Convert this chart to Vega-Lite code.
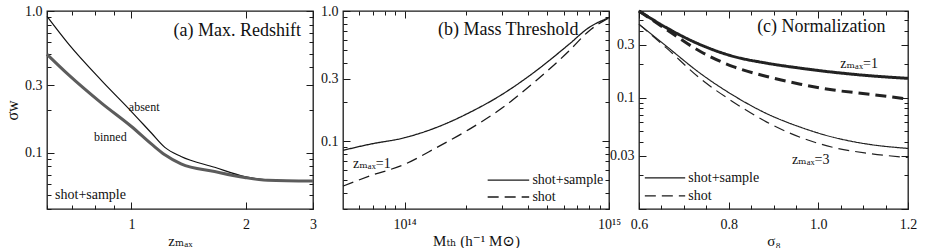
{
  "$schema": "https://vega.github.io/schema/vega-lite/v6.json",
  "padding": {"left": 3, "top": 3, "right": 5, "bottom": 0},
  "background": "white",
  "bounds": "flush",
  "spacing": 30,
  "config": {
    "font": "'Liberation Serif', 'Times New Roman', 'DejaVu Serif', serif",
    "view": {"stroke": "#1a1a1a", "strokeWidth": 1.3},
    "axis": {"domain": false, "grid": false, "tickColor": "#1a1a1a", "tickWidth": 1, "labelFont": "'Liberation Serif', 'Times New Roman', 'DejaVu Serif', serif", "labelFontSize": 14, "labelColor": "#111111", "labelFlush": false, "labelOverlap": false, "labelPadding": 15, "titleFont": "'Liberation Serif', 'Times New Roman', 'DejaVu Serif', serif", "titleFontSize": 15, "titleFontWeight": "normal", "titleColor": "#111111", "titlePadding": -1},
    "axisY": {"labelPadding": 12, "titlePadding": 4, "titleFontSize": 16},
    "text": {"font": "'Liberation Serif', 'Times New Roman', 'DejaVu Serif', serif", "color": "#111111"}
  },
  "resolve": {"scale": {"x": "independent", "y": "independent", "strokeDash": "independent", "strokeWidth": "independent", "color": "independent"}},
  "hconcat": [
    {
      "width": 266,
      "height": 198,
      "data": {"values": [
        {"z": 0.6, "s": 0.915, "series": "absent"},
        {"z": 0.684, "s": 0.583, "series": "absent"},
        {"z": 0.836, "s": 0.321, "series": "absent"},
        {"z": 1.0, "s": 0.195, "series": "absent"},
        {"z": 1.13, "s": 0.137, "series": "absent"},
        {"z": 1.224, "s": 0.109, "series": "absent"},
        {"z": 1.35, "s": 0.0939, "series": "absent"},
        {"z": 1.654, "s": 0.0788, "series": "absent"},
        {"z": 1.983, "s": 0.0678, "series": "absent"},
        {"z": 2.28, "s": 0.0643, "series": "absent"},
        {"z": 3.0, "s": 0.063, "series": "absent"},
        {"z": 0.6, "s": 0.495, "series": "binned"},
        {"z": 0.684, "s": 0.354, "series": "binned"},
        {"z": 0.836, "s": 0.223, "series": "binned"},
        {"z": 1.0, "s": 0.153, "series": "binned"},
        {"z": 1.13, "s": 0.1147, "series": "binned"},
        {"z": 1.224, "s": 0.0965, "series": "binned"},
        {"z": 1.35, "s": 0.0833, "series": "binned"},
        {"z": 1.654, "s": 0.0735, "series": "binned"},
        {"z": 1.983, "s": 0.0667, "series": "binned"},
        {"z": 2.28, "s": 0.0638, "series": "binned"},
        {"z": 3.0, "s": 0.063, "series": "binned"}
      ]},
      "layer": [
        {
          "mark": {"type": "line", "interpolate": "monotone"},
          "encoding": {
            "x": {"field": "z", "type": "quantitative", "scale": {"type": "log", "domain": [0.6, 3]},
              "axis": {"orient": "bottom", "title": "zₘₐₓ", "values": [0.6, 0.7, 0.8, 0.9, 1, 2, 3],
                "labelExpr": "datum.value==1?'1':datum.value==2?'2':datum.value==3?'3':''",
                "tickSize": {"condition": {"test": "datum.value>=1", "value": -7}, "value": -4}}},
            "y": {"field": "s", "type": "quantitative", "scale": {"type": "log", "domain": [0.04, 1]},
              "axis": {"orient": "left", "title": "σw", "values": [0.04, 0.05, 0.06, 0.07, 0.08, 0.09, 0.1, 0.2, 0.3, 0.4, 0.5, 0.6, 0.7, 0.8, 0.9, 1],
                "labelExpr": "datum.value==1?'1.0':datum.value==0.3?'0.3':datum.value==0.1?'0.1':''",
                "tickSize": {"condition": {"test": "datum.value==1||datum.value==0.3||datum.value==0.1", "value": -7}, "value": -4}}},
            "color": {"field": "series", "type": "nominal", "scale": {"domain": ["absent", "binned"], "range": ["#111111", "#5c5c5c"]}, "legend": null},
            "strokeWidth": {"field": "series", "type": "ordinal", "scale": {"domain": ["absent", "binned"], "range": [1.2, 3]}, "legend": null}
          }
        },
        {
          "mark": {"type": "line", "strokeOpacity": 0},
          "encoding": {
            "x": {"field": "z", "type": "quantitative", "scale": {"type": "log", "domain": [0.6, 3]},
              "axis": {"orient": "top", "title": null, "labels": false, "values": [0.6, 0.7, 0.8, 0.9, 1, 2, 3],
                "tickSize": {"condition": {"test": "datum.value>=1", "value": -7}, "value": -4}}},
            "y": {"field": "s", "type": "quantitative", "scale": {"type": "log", "domain": [0.04, 1]},
              "axis": {"orient": "right", "title": null, "labels": false, "values": [0.04, 0.05, 0.06, 0.07, 0.08, 0.09, 0.1, 0.2, 0.3, 0.4, 0.5, 0.6, 0.7, 0.8, 0.9, 1],
                "tickSize": {"condition": {"test": "datum.value==1||datum.value==0.3||datum.value==0.1", "value": -7}, "value": -4}}},
            "detail": {"field": "series", "type": "nominal"}
          }
        },
        {
          "data": {"values": [{"z": 2.79, "s": 0.72, "label": "(a) Max. Redshift"}]},
          "mark": {"type": "text", "align": "right", "baseline": "middle", "fontSize": 18},
          "encoding": {
            "x": {"field": "z", "type": "quantitative", "scale": {"type": "log", "domain": [0.6, 3]}, "axis": null},
            "y": {"field": "s", "type": "quantitative", "scale": {"type": "log", "domain": [0.04, 1]}, "axis": null},
            "text": {"field": "label"}
          }
        },
        {
          "data": {"values": [{"z": 1.08, "s": 0.21, "label": "absent"}, {"z": 0.88, "s": 0.128, "label": "binned"}]},
          "mark": {"type": "text", "align": "center", "baseline": "middle", "fontSize": 12},
          "encoding": {
            "x": {"field": "z", "type": "quantitative", "scale": {"type": "log", "domain": [0.6, 3]}, "axis": null},
            "y": {"field": "s", "type": "quantitative", "scale": {"type": "log", "domain": [0.04, 1]}, "axis": null},
            "text": {"field": "label"}
          }
        },
        {
          "data": {"values": [{"z": 0.63, "s": 0.05, "label": "shot+sample"}]},
          "mark": {"type": "text", "align": "left", "baseline": "middle", "fontSize": 14},
          "encoding": {
            "x": {"field": "z", "type": "quantitative", "scale": {"type": "log", "domain": [0.6, 3]}, "axis": null},
            "y": {"field": "s", "type": "quantitative", "scale": {"type": "log", "domain": [0.04, 1]}, "axis": null},
            "text": {"field": "label"}
          }
        }
      ],
      "resolve": {"axis": {"x": "independent", "y": "independent"}}
    },
    {
      "width": 266,
      "height": 198,
      "data": {"values": [
        {"M": 5e13, "s": 0.0848, "type": "shot+sample"},
        {"M": 6.75e13, "s": 0.0944, "type": "shot+sample"},
        {"M": 1e14, "s": 0.106, "type": "shot+sample"},
        {"M": 1.43e14, "s": 0.127, "type": "shot+sample"},
        {"M": 2.07e14, "s": 0.165, "type": "shot+sample"},
        {"M": 3.01e14, "s": 0.229, "type": "shot+sample"},
        {"M": 4.38e14, "s": 0.345, "type": "shot+sample"},
        {"M": 6.37e14, "s": 0.554, "type": "shot+sample"},
        {"M": 7.96e14, "s": 0.744, "type": "shot+sample"},
        {"M": 1e15, "s": 0.888, "type": "shot+sample"},
        {"M": 5e13, "s": 0.045, "type": "shot"},
        {"M": 6.75e13, "s": 0.0538, "type": "shot"},
        {"M": 1e14, "s": 0.0662, "type": "shot"},
        {"M": 1.43e14, "s": 0.0888, "type": "shot"},
        {"M": 2.07e14, "s": 0.123, "type": "shot"},
        {"M": 3.01e14, "s": 0.18, "type": "shot"},
        {"M": 4.38e14, "s": 0.29, "type": "shot"},
        {"M": 6.37e14, "s": 0.492, "type": "shot"},
        {"M": 7.96e14, "s": 0.7, "type": "shot"},
        {"M": 1e15, "s": 0.888, "type": "shot"}
      ]},
      "layer": [
        {
          "mark": {"type": "line", "interpolate": "monotone", "color": "#1a1a1a", "strokeWidth": 1.3},
          "encoding": {
            "x": {"field": "M", "type": "quantitative", "scale": {"type": "log", "domain": [5e13, 1e15]},
              "axis": {"orient": "bottom", "title": "Mₜₕ (h⁻¹ M⊙)", "values": [6e13, 7e13, 8e13, 9e13, 1e14, 2e14, 3e14, 4e14, 5e14, 6e14, 7e14, 8e14, 9e14, 1e15],
                "labelExpr": "datum.value==1e14?'10¹⁴':datum.value==1e15?'10¹⁵':''",
                "tickSize": {"condition": {"test": "datum.value==1e14||datum.value==1e15", "value": -7}, "value": -4}}},
            "y": {"field": "s", "type": "quantitative", "scale": {"type": "log", "domain": [0.03, 1]},
              "axis": {"orient": "left", "title": null, "values": [0.03, 0.04, 0.05, 0.06, 0.07, 0.08, 0.09, 0.1, 0.2, 0.3, 0.4, 0.5, 0.6, 0.7, 0.8, 0.9, 1],
                "labelExpr": "datum.value==1?'1.0':datum.value==0.3?'0.3':datum.value==0.1?'0.1':''",
                "tickSize": {"condition": {"test": "datum.value==1||datum.value==0.3||datum.value==0.1", "value": -7}, "value": -4}}},
            "strokeDash": {"field": "type", "type": "nominal", "scale": {"domain": ["shot+sample", "shot"], "range": [[1, 0], [11, 6]]}, "legend": null}
          }
        },
        {
          "mark": {"type": "line", "strokeOpacity": 0},
          "encoding": {
            "x": {"field": "M", "type": "quantitative", "scale": {"type": "log", "domain": [5e13, 1e15]},
              "axis": {"orient": "top", "title": null, "labels": false, "values": [6e13, 7e13, 8e13, 9e13, 1e14, 2e14, 3e14, 4e14, 5e14, 6e14, 7e14, 8e14, 9e14, 1e15],
                "tickSize": {"condition": {"test": "datum.value==1e14||datum.value==1e15", "value": -7}, "value": -4}}},
            "y": {"field": "s", "type": "quantitative", "scale": {"type": "log", "domain": [0.03, 1]},
              "axis": {"orient": "right", "title": null, "labels": false, "values": [0.03, 0.04, 0.05, 0.06, 0.07, 0.08, 0.09, 0.1, 0.2, 0.3, 0.4, 0.5, 0.6, 0.7, 0.8, 0.9, 1],
                "tickSize": {"condition": {"test": "datum.value==1||datum.value==0.3||datum.value==0.1", "value": -7}, "value": -4}}},
            "detail": {"field": "type", "type": "nominal"}
          }
        },
        {
          "data": {"values": [
            {"M1": 2.55e14, "M2": 4.07e14, "s": 0.0501, "type": "shot+sample"},
            {"M1": 2.55e14, "M2": 4.07e14, "s": 0.0371, "type": "shot"}
          ]},
          "mark": {"type": "rule", "color": "#1a1a1a", "strokeWidth": 1.3},
          "encoding": {
            "x": {"field": "M1", "type": "quantitative", "scale": {"type": "log", "domain": [5e13, 1e15]}, "axis": null},
            "x2": {"field": "M2"},
            "y": {"field": "s", "type": "quantitative", "scale": {"type": "log", "domain": [0.03, 1]}, "axis": null},
            "strokeDash": {"field": "type", "type": "nominal", "scale": {"domain": ["shot+sample", "shot"], "range": [[1, 0], [11, 6]]}, "legend": null}
          }
        },
        {
          "data": {"values": [
            {"M": 4.22e14, "s": 0.0501, "label": "shot+sample"},
            {"M": 4.22e14, "s": 0.0371, "label": "shot"}
          ]},
          "mark": {"type": "text", "align": "left", "baseline": "middle", "fontSize": 14},
          "encoding": {
            "x": {"field": "M", "type": "quantitative", "scale": {"type": "log", "domain": [5e13, 1e15]}, "axis": null},
            "y": {"field": "s", "type": "quantitative", "scale": {"type": "log", "domain": [0.03, 1]}, "axis": null},
            "text": {"field": "label"}
          }
        },
        {
          "data": {"values": [{"M": 7.1e14, "s": 0.71, "label": "(b) Mass Threshold"}]},
          "mark": {"type": "text", "align": "right", "baseline": "middle", "fontSize": 18},
          "encoding": {
            "x": {"field": "M", "type": "quantitative", "scale": {"type": "log", "domain": [5e13, 1e15]}, "axis": null},
            "y": {"field": "s", "type": "quantitative", "scale": {"type": "log", "domain": [0.03, 1]}, "axis": null},
            "text": {"field": "label"}
          }
        },
        {
          "data": {"values": [{"M": 5.6e13, "s": 0.066, "label": "zₘₐₓ=1"}]},
          "mark": {"type": "text", "align": "left", "baseline": "middle", "fontSize": 14},
          "encoding": {
            "x": {"field": "M", "type": "quantitative", "scale": {"type": "log", "domain": [5e13, 1e15]}, "axis": null},
            "y": {"field": "s", "type": "quantitative", "scale": {"type": "log", "domain": [0.03, 1]}, "axis": null},
            "text": {"field": "label"}
          }
        }
      ],
      "resolve": {"axis": {"x": "independent", "y": "independent"}}
    },
    {
      "width": 269,
      "height": 198,
      "data": {"values": [
        {"s8": 0.6, "s": 0.6, "type": "shot+sample", "zmax": "1"},
        {"s8": 0.661, "s": 0.425, "type": "shot+sample", "zmax": "1"},
        {"s8": 0.736, "s": 0.3, "type": "shot+sample", "zmax": "1"},
        {"s8": 0.81, "s": 0.235, "type": "shot+sample", "zmax": "1"},
        {"s8": 0.885, "s": 0.204, "type": "shot+sample", "zmax": "1"},
        {"s8": 0.96, "s": 0.184, "type": "shot+sample", "zmax": "1"},
        {"s8": 1.034, "s": 0.169, "type": "shot+sample", "zmax": "1"},
        {"s8": 1.109, "s": 0.158, "type": "shot+sample", "zmax": "1"},
        {"s8": 1.2, "s": 0.149, "type": "shot+sample", "zmax": "1"},
        {"s8": 0.6, "s": 0.6, "type": "shot", "zmax": "1"},
        {"s8": 0.661, "s": 0.41, "type": "shot", "zmax": "1"},
        {"s8": 0.736, "s": 0.261, "type": "shot", "zmax": "1"},
        {"s8": 0.81, "s": 0.19, "type": "shot", "zmax": "1"},
        {"s8": 0.885, "s": 0.155, "type": "shot", "zmax": "1"},
        {"s8": 0.96, "s": 0.132, "type": "shot", "zmax": "1"},
        {"s8": 1.034, "s": 0.117, "type": "shot", "zmax": "1"},
        {"s8": 1.109, "s": 0.108, "type": "shot", "zmax": "1"},
        {"s8": 1.2, "s": 0.097, "type": "shot", "zmax": "1"},
        {"s8": 0.6, "s": 0.456, "type": "shot+sample", "zmax": "3"},
        {"s8": 0.661, "s": 0.29, "type": "shot+sample", "zmax": "3"},
        {"s8": 0.736, "s": 0.166, "type": "shot+sample", "zmax": "3"},
        {"s8": 0.81, "s": 0.105, "type": "shot+sample", "zmax": "3"},
        {"s8": 0.885, "s": 0.0718, "type": "shot+sample", "zmax": "3"},
        {"s8": 0.96, "s": 0.0543, "type": "shot+sample", "zmax": "3"},
        {"s8": 1.034, "s": 0.044, "type": "shot+sample", "zmax": "3"},
        {"s8": 1.109, "s": 0.0383, "type": "shot+sample", "zmax": "3"},
        {"s8": 1.2, "s": 0.035, "type": "shot+sample", "zmax": "3"},
        {"s8": 0.6, "s": 0.456, "type": "shot", "zmax": "3"},
        {"s8": 0.661, "s": 0.28, "type": "shot", "zmax": "3"},
        {"s8": 0.736, "s": 0.149, "type": "shot", "zmax": "3"},
        {"s8": 0.81, "s": 0.0916, "type": "shot", "zmax": "3"},
        {"s8": 0.885, "s": 0.0603, "type": "shot", "zmax": "3"},
        {"s8": 0.96, "s": 0.044, "type": "shot", "zmax": "3"},
        {"s8": 1.034, "s": 0.0357, "type": "shot", "zmax": "3"},
        {"s8": 1.109, "s": 0.0317, "type": "shot", "zmax": "3"},
        {"s8": 1.2, "s": 0.029, "type": "shot", "zmax": "3"}
      ]},
      "layer": [
        {
          "mark": {"type": "line", "interpolate": "monotone", "color": "#222222"},
          "encoding": {
            "x": {"field": "s8", "type": "quantitative", "scale": {"domain": [0.6, 1.2], "nice": false, "zero": false},
              "axis": {"orient": "bottom", "title": "σ₈", "values": [0.6, 0.65, 0.7, 0.75, 0.8, 0.85, 0.9, 0.95, 1, 1.05, 1.1, 1.15, 1.2],
                "labelExpr": "datum.value==0.6||datum.value==0.8||datum.value==1||datum.value==1.2 ? format(datum.value,'.1f') : ''",
                "tickSize": {"condition": {"test": "datum.value==0.6||datum.value==0.8||datum.value==1||datum.value==1.2", "value": -7}, "value": -4}}},
            "y": {"field": "s", "type": "quantitative", "scale": {"type": "log", "domain": [0.01, 0.6]},
              "axis": {"orient": "left", "title": null, "values": [0.01, 0.02, 0.03, 0.04, 0.05, 0.06, 0.07, 0.08, 0.09, 0.1, 0.2, 0.3, 0.4, 0.5, 0.6],
                "labelExpr": "datum.value==0.3?'0.3':datum.value==0.1?'0.1':datum.value==0.03?'0.03':''",
                "tickSize": {"condition": {"test": "datum.value==0.01||datum.value==0.03||datum.value==0.1||datum.value==0.3", "value": -7}, "value": -4}}},
            "strokeDash": {"field": "type", "type": "nominal", "scale": {"domain": ["shot+sample", "shot"], "range": [[1, 0], [11, 6]]}, "legend": null},
            "strokeWidth": {"field": "zmax", "type": "ordinal", "scale": {"domain": ["1", "3"], "range": [3, 1.2]}, "legend": null}
          }
        },
        {
          "mark": {"type": "line", "strokeOpacity": 0},
          "encoding": {
            "x": {"field": "s8", "type": "quantitative", "scale": {"domain": [0.6, 1.2], "nice": false, "zero": false},
              "axis": {"orient": "top", "title": null, "labels": false, "values": [0.6, 0.65, 0.7, 0.75, 0.8, 0.85, 0.9, 0.95, 1, 1.05, 1.1, 1.15, 1.2],
                "tickSize": {"condition": {"test": "datum.value==0.6||datum.value==0.8||datum.value==1||datum.value==1.2", "value": -7}, "value": -4}}},
            "y": {"field": "s", "type": "quantitative", "scale": {"type": "log", "domain": [0.01, 0.6]},
              "axis": {"orient": "right", "title": null, "labels": false, "values": [0.01, 0.02, 0.03, 0.04, 0.05, 0.06, 0.07, 0.08, 0.09, 0.1, 0.2, 0.3, 0.4, 0.5, 0.6],
                "tickSize": {"condition": {"test": "datum.value==0.01||datum.value==0.03||datum.value==0.1||datum.value==0.3", "value": -7}, "value": -4}}},
            "detail": {"field": "type", "type": "nominal"}
          }
        },
        {
          "data": {"values": [
            {"x1": 0.613, "x2": 0.703, "s": 0.019, "type": "shot+sample"},
            {"x1": 0.613, "x2": 0.703, "s": 0.0131, "type": "shot"}
          ]},
          "mark": {"type": "rule", "color": "#1a1a1a", "strokeWidth": 1.3},
          "encoding": {
            "x": {"field": "x1", "type": "quantitative", "scale": {"domain": [0.6, 1.2], "nice": false, "zero": false}, "axis": null},
            "x2": {"field": "x2"},
            "y": {"field": "s", "type": "quantitative", "scale": {"type": "log", "domain": [0.01, 0.6]}, "axis": null},
            "strokeDash": {"field": "type", "type": "nominal", "scale": {"domain": ["shot+sample", "shot"], "range": [[1, 0], [11, 6]]}, "legend": null}
          }
        },
        {
          "data": {"values": [
            {"s8": 0.71, "s": 0.019, "label": "shot+sample"},
            {"s8": 0.71, "s": 0.0131, "label": "shot"}
          ]},
          "mark": {"type": "text", "align": "left", "baseline": "middle", "fontSize": 14},
          "encoding": {
            "x": {"field": "s8", "type": "quantitative", "scale": {"domain": [0.6, 1.2], "nice": false, "zero": false}, "axis": null},
            "y": {"field": "s", "type": "quantitative", "scale": {"type": "log", "domain": [0.01, 0.6]}, "axis": null},
            "text": {"field": "label"}
          }
        },
        {
          "data": {"values": [{"s8": 1.15, "s": 0.43, "label": "(c) Normalization"}]},
          "mark": {"type": "text", "align": "right", "baseline": "middle", "fontSize": 18},
          "encoding": {
            "x": {"field": "s8", "type": "quantitative", "scale": {"domain": [0.6, 1.2], "nice": false, "zero": false}, "axis": null},
            "y": {"field": "s", "type": "quantitative", "scale": {"type": "log", "domain": [0.01, 0.6]}, "axis": null},
            "text": {"field": "label"}
          }
        },
        {
          "data": {"values": [{"s8": 1.049, "s": 0.2, "label": "zₘₐₓ=1"}, {"s8": 0.941, "s": 0.0275, "label": "zₘₐₓ=3"}]},
          "mark": {"type": "text", "align": "left", "baseline": "middle", "fontSize": 14},
          "encoding": {
            "x": {"field": "s8", "type": "quantitative", "scale": {"domain": [0.6, 1.2], "nice": false, "zero": false}, "axis": null},
            "y": {"field": "s", "type": "quantitative", "scale": {"type": "log", "domain": [0.01, 0.6]}, "axis": null},
            "text": {"field": "label"}
          }
        }
      ],
      "resolve": {"axis": {"x": "independent", "y": "independent"}}
    }
  ]
}
